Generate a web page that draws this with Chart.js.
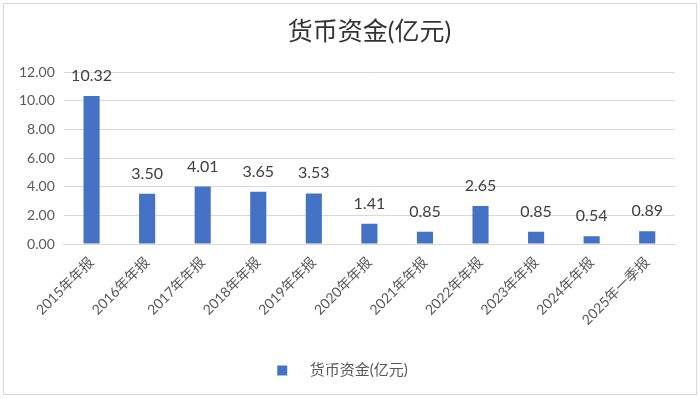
<!DOCTYPE html>
<html><head><meta charset="utf-8">
<script src="https://cdn.jsdelivr.net/npm/chart.js@4/dist/chart.umd.min.js"></script>
<style>
html,body{margin:0;padding:0;background:#fff;}
#frame{position:absolute;left:3px;top:3px;width:692px;height:390px;border:1px solid #d9d9d9;}
#wrap{position:absolute;left:0;top:0;width:700px;height:399px;}
</style></head>
<body>
<div id="frame"></div>
<div id="wrap"><canvas id="c" width="700" height="399"></canvas></div>
<script>
const categories = ["2015年年报","2016年年报","2017年年报","2018年年报","2019年年报","2020年年报","2021年年报","2022年年报","2023年年报","2024年年报","2025年一季报"];
const values = [10.32, 3.50, 4.01, 3.65, 3.53, 1.41, 0.85, 2.65, 0.85, 0.54, 0.89];
const seriesName = "货币资金(亿元)";
const titleText = "货币资金(亿元)";
const yTicks = [0, 2, 4, 6, 8, 10, 12];
const FONT = "Lato, 'Noto Sans CJK SC', sans-serif";

const labelPlugin = {
  id: 'vlabels',
  afterDatasetsDraw(chart) {
    const ctx = chart.ctx;
    const meta = chart.getDatasetMeta(0);
    ctx.save();
    ctx.font = "16px " + FONT;
    ctx.fillStyle = "#404040";
    ctx.textAlign = "center";
    ctx.textBaseline = "alphabetic";
    meta.data.forEach((bar, i) => {
      ctx.fillText(values[i].toFixed(2), bar.x, bar.y - 15);
    });
    ctx.restore();
  }
};

new Chart(document.getElementById('c'), {
  type: 'bar',
  data: {
    labels: categories,
    datasets: [{
      label: seriesName,
      data: values,
      backgroundColor: '#4472C4',
      borderWidth: 0,
      barPercentage: 0.58,
      categoryPercentage: 0.5
    }]
  },
  options: {
    responsive: false,
    animation: false,
    devicePixelRatio: 1,
    layout: { padding: { left: 10, right: 25, top: 10, bottom: 11 } },
    plugins: {
      title: {
        display: true, text: titleText, color: '#333333', fullSize: false,
        font: { family: FONT, size: 25, weight: 'normal' },
        padding: { top: 7, bottom: 25 }
      },
      legend: {
        position: 'bottom',
        labels: {
          color: '#595959', font: { family: FONT, size: 15 },
          boxWidth: 10, boxHeight: 10, padding: 12,
          generateLabels(chart) {
            const items = Chart.defaults.plugins.legend.labels.generateLabels(chart);
            items.forEach(it => { it.text = '\u2002\u2002' + it.text; it.lineWidth = 0; });
            return items;
          }
        }
      },
      tooltip: { enabled: false }
    },
    scales: {
      y: {
        min: 0, max: 12,
        afterBuildTicks(scale) { scale.ticks = yTicks.map(v => ({ value: v })); },
        ticks: { color: '#595959', font: { family: FONT, size: 14 }, padding: 9,
          callback: v => Number(v).toFixed(2) },
        grid: { color: '#d9d9d9', drawTicks: false },
        border: { display: false }
      },
      x: {
        afterFit(scale) { scale.height = 107; },
        ticks: { color: '#595959', font: { family: FONT, size: 14 }, minRotation: 45, maxRotation: 45, padding: 10 },
        grid: { display: false, drawTicks: false },
        border: { color: '#d9d9d9' }
      }
    }
  },
  plugins: [labelPlugin]
});
</script>
</body></html>
